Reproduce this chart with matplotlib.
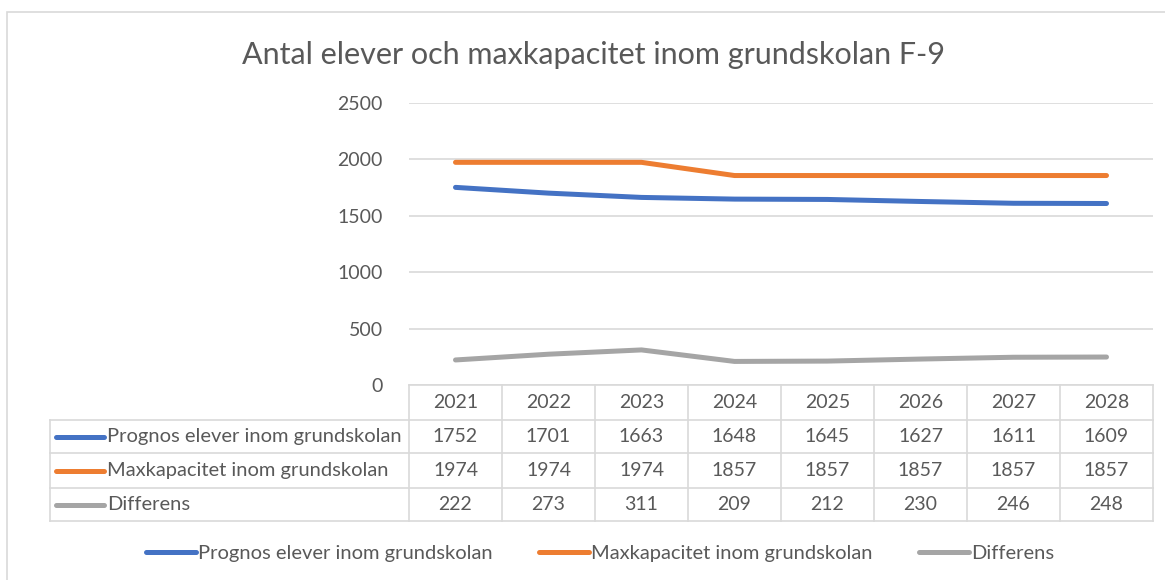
import matplotlib
matplotlib.use('Agg')
import matplotlib.pyplot as plt
from matplotlib.patches import Rectangle

plt.rcParams['font.family'] = ['Lato', 'DejaVu Sans']

years = ['2021', '2022', '2023', '2024', '2025', '2026', '2027', '2028']
prognos = [1752, 1701, 1663, 1648, 1645, 1627, 1611, 1609]
maxkap = [1974, 1974, 1974, 1857, 1857, 1857, 1857, 1857]
differens = [222, 273, 311, 209, 212, 230, 246, 248]
labels = ['Prognos elever inom grundskolan', 'Maxkapacitet inom grundskolan', 'Differens']
col = ['#4472c4', '#ed7d31', '#a5a5a5']
txt = '#595959'
grid = '#d9d9d9'

W, H = 1165, 580
fig = plt.figure(figsize=(W / 100, H / 100), dpi=100)

def fx(px):
    return px / W

def fy(py):
    return 1 - py / H

# outer chart border
fig.patches.append(Rectangle((fx(7), fy(590)), fx(1170 - 7), 590 / H - 12 / H,
                             transform=fig.transFigure, fill=False,
                             edgecolor=grid, lw=1.2))

fig.text(fx(594), fy(55), 'Antal elever och maxkapacitet inom grundskolan F-9',
         ha='center', va='center', fontsize=22, color=txt)

# plot area
pl, pr, pt, pb = 409, 1153, 103, 385
ax = fig.add_axes([fx(pl), fy(pb), fx(pr - pl), (pb - pt) / H])
series = [prognos, maxkap, differens]
x = list(range(len(years)))
for s, c, lab in zip(series, col, labels):
    ax.plot(x, s, color=c, lw=3.6, solid_capstyle='round', label=lab, zorder=3)
ax.set_xlim(-0.5, len(years) - 0.5)
ax.set_ylim(0, 2500)
ax.set_yticks(range(0, 2501, 500))
ax.set_xticks([])
ax.grid(axis='y', color=grid, lw=1.2)
ax.tick_params(axis='y', length=0, labelsize=14, labelcolor=txt, pad=19)
for sp in ax.spines.values():
    sp.set_visible(False)

# data table
tl, tb = 50, 521
rows = [pb, 420, 453, 488, tb]
tax = fig.add_axes([fx(tl), fy(tb), fx(pr - tl), (tb - pb) / H])
tax.set_xlim(tl, pr)
tax.set_ylim(tb, pb)
tax.axis('off')
cw = (pr - pl) / len(years)
lk = dict(color=grid, lw=1.2, clip_on=False)
tax.plot([pl, pr], [rows[0], rows[0]], **lk)
for r in rows[1:]:
    tax.plot([tl, pr], [r, r], **lk)
tax.plot([tl, tl], [rows[1], tb], **lk)
for i in range(len(years) + 1):
    xv = pl + i * cw
    tax.plot([xv, xv], [rows[0], tb], **lk)
for i, yr in enumerate(years):
    tax.text(pl + (i + 0.5) * cw, (rows[0] + rows[1]) / 2, yr, ha='center',
             va='center', fontsize=14, color=txt)
for j, (s, c, lab) in enumerate(zip(series, col, labels)):
    yc = (rows[j + 1] + rows[j + 2]) / 2
    tax.plot([56, 104], [yc, yc], color=c, lw=3.6, solid_capstyle='round')
    tax.text(107, yc, lab, ha='left', va='center', fontsize=14.5, color=txt)
    for i, v in enumerate(s):
        tax.text(pl + (i + 0.5) * cw, yc, str(v), ha='center', va='center',
                 fontsize=14, color=txt)

leg = fig.legend(loc='center', bbox_to_anchor=(fx(600), fy(553)), ncol=3,
                 frameon=False, fontsize=14.5, handlelength=2.5, handletextpad=0.1,
                 columnspacing=2.3)
for t in leg.get_texts():
    t.set_color(txt)

fig.savefig('out.png', dpi=100)
